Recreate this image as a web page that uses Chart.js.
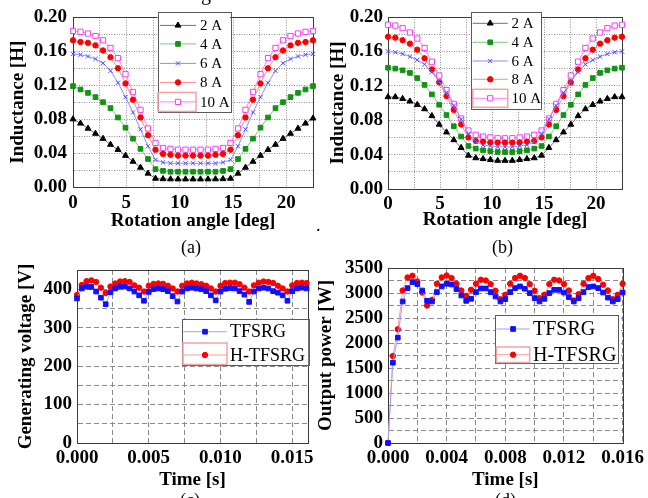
<!DOCTYPE html>
<html><head><meta charset="utf-8">
<script src="https://cdn.jsdelivr.net/npm/chart.js@4.4.1/dist/chart.umd.min.js"></script>
<style>
html,body{margin:0;padding:0;background:#fff;}
#wrap{position:relative;width:648px;height:498px;overflow:hidden;background:#fff;font-family:'Liberation Serif','Times New Roman',serif;color:#000;}
canvas{position:absolute;}
.txt{position:absolute;white-space:nowrap;line-height:1;}
</style></head><body>
<div id="wrap">
<canvas id="ca" width="320" height="232" style="left:0;top:0"></canvas>
<canvas id="cb" width="326" height="231" style="left:322px;top:0"></canvas>
<canvas id="cc" width="318" height="241" style="left:0;top:250px"></canvas>
<canvas id="cd" width="336" height="241" style="left:312px;top:250px"></canvas>
<div class="txt" style="left:201px;top:-17px;font-size:20px">g</div>
<div class="txt" style="left:316px;top:216px;font-size:18px">.</div>
<div class="txt" style="left:181px;top:238px;font-size:18px">(a)</div>
<div class="txt" style="left:492px;top:238px;font-size:18px">(b)</div>
<div class="txt" style="left:180px;top:491px;font-size:18px">(c)</div>
<div class="txt" style="left:495px;top:491px;font-size:18px">(d)</div>
</div>
<script>
// ---------------- data ----------------
const angleDeg = [0, 0.703, 1.406, 2.109, 2.813, 3.516, 4.219, 4.922, 5.625, 6.328, 7.031, 7.734, 8.438, 9.141, 9.844, 10.547, 11.25, 11.953, 12.656, 13.359, 14.063, 14.766, 15.469, 16.172, 16.875, 17.578, 18.281, 18.984, 19.688, 20.391, 21.094, 21.797, 22.5];
const currentLabels = ['2 A', '4 A', '6 A', '8 A', '10 A'];

// (a)
const indA_2A  = [0.080,0.075,0.069,0.063,0.057,0.050,0.044,0.037,0.030,0.023,0.016,0.010,0.0095,0.0093,0.0092,0.0092,0.0092,0.0092,0.0092,0.0093,0.0095,0.010,0.016,0.023,0.030,0.037,0.044,0.050,0.057,0.063,0.069,0.075,0.081];
const indA_4A  = [0.119,0.115,0.111,0.106,0.100,0.093,0.082,0.070,0.057,0.045,0.033,0.021,0.019,0.018,0.018,0.018,0.018,0.018,0.018,0.018,0.019,0.021,0.033,0.045,0.057,0.070,0.082,0.093,0.100,0.106,0.111,0.115,0.119];
const indA_6A  = [0.157,0.156,0.154,0.151,0.146,0.137,0.123,0.106,0.088,0.068,0.048,0.032,0.029,0.028,0.028,0.028,0.028,0.028,0.028,0.028,0.029,0.032,0.048,0.068,0.088,0.106,0.123,0.137,0.146,0.151,0.154,0.156,0.157];
const indA_8A  = [0.173,0.171,0.170,0.167,0.161,0.153,0.140,0.122,0.103,0.082,0.061,0.044,0.039,0.038,0.037,0.037,0.037,0.037,0.037,0.038,0.039,0.044,0.061,0.082,0.103,0.122,0.140,0.153,0.161,0.167,0.170,0.171,0.173];
const indA_10A = [0.184,0.183,0.181,0.178,0.173,0.164,0.152,0.133,0.112,0.091,0.069,0.052,0.046,0.045,0.044,0.044,0.044,0.044,0.044,0.045,0.046,0.052,0.069,0.091,0.112,0.133,0.152,0.164,0.173,0.178,0.181,0.183,0.184];

// (b)
const indB_2A  = [0.107,0.107,0.105,0.102,0.098,0.093,0.085,0.075,0.066,0.057,0.048,0.039,0.036,0.035,0.034,0.033,0.033,0.033,0.034,0.035,0.036,0.039,0.048,0.057,0.066,0.075,0.085,0.093,0.098,0.102,0.105,0.107,0.107];
const indB_4A  = [0.141,0.140,0.138,0.135,0.129,0.121,0.110,0.098,0.086,0.073,0.061,0.050,0.047,0.045,0.044,0.043,0.043,0.043,0.044,0.045,0.047,0.050,0.061,0.073,0.086,0.098,0.110,0.121,0.129,0.135,0.138,0.140,0.141];
const indB_6A  = [0.160,0.159,0.157,0.154,0.150,0.145,0.136,0.125,0.112,0.097,0.081,0.064,0.055,0.051,0.050,0.049,0.049,0.049,0.050,0.051,0.055,0.064,0.081,0.097,0.112,0.125,0.136,0.145,0.150,0.154,0.157,0.159,0.160];
const indB_8A  = [0.177,0.176,0.173,0.169,0.162,0.152,0.139,0.124,0.108,0.092,0.075,0.060,0.056,0.055,0.054,0.054,0.054,0.054,0.054,0.055,0.056,0.060,0.075,0.092,0.108,0.124,0.139,0.152,0.162,0.169,0.173,0.176,0.177];
const indB_10A = [0.191,0.190,0.187,0.182,0.175,0.164,0.148,0.132,0.115,0.099,0.082,0.068,0.063,0.061,0.060,0.059,0.059,0.059,0.060,0.061,0.063,0.068,0.082,0.099,0.115,0.132,0.148,0.164,0.175,0.182,0.187,0.190,0.191];

// (c), (d)
const timeS = [0, 0.000333, 0.000667, 0.001, 0.001333, 0.001667, 0.002, 0.002333, 0.002667, 0.003, 0.003333, 0.003667, 0.004, 0.004333, 0.004667, 0.005, 0.005333, 0.005667, 0.006, 0.006333, 0.006667, 0.007, 0.007333, 0.007667, 0.008, 0.008333, 0.008667, 0.009, 0.009333, 0.009667, 0.01, 0.010333, 0.010667, 0.011, 0.011333, 0.011667, 0.012, 0.012333, 0.012667, 0.013, 0.013333, 0.013667, 0.014, 0.014333, 0.014667, 0.015, 0.015333, 0.015667, 0.016];
const machineLabels = ['TFSRG', 'H-TFSRG'];
const voltTFSRG  = [376,402,407,406,394,378,361,392,402,407,407,402,394,384,370,393,400,402,400,395,382,368,394,402,404,402,400,395,384,371,394,401,403,402,395,386,367,394,402,404,402,395,391,384,370,395,402,404,402];
const voltHTFSRG = [385,411,421,423,419,404,390,407,415,420,421,419,410,404,394,409,414,415,414,409,402,394,409,415,417,415,413,409,402,394,409,416,417,417,413,404,394,410,417,420,419,416,409,402,394,410,416,417,416];
const powerTFSRG  = [0,1606,2107,2830,3098,3218,3178,3050,2843,2830,3018,3131,3185,3171,3078,2950,2843,2884,3018,3091,3091,3018,2930,2830,2878,3018,3098,3131,3085,2998,2898,2830,2884,2998,3064,3064,3010,2918,2830,2898,3018,3118,3131,3098,3010,2908,2830,2878,3010];
const powerHTFSRG = [0,1740,2275,3050,3311,3345,3231,3010,2750,2863,3185,3311,3351,3299,3185,3050,2944,3064,3185,3265,3251,3178,3044,2878,2964,3185,3299,3345,3299,3178,3044,2898,2964,3178,3265,3251,3178,3050,2850,2978,3185,3299,3345,3279,3165,3050,2878,2964,3185];

// tick labels
const angleTickLabels = ['0', '5', '10', '15', '20'];
const indTickLabels = ['0.00', '0.04', '0.08', '0.12', '0.16', '0.20'];
const voltTickLabels = ['0', '100', '200', '300', '400'];
const timeTickLabelsC = ['0.000', '0.005', '0.010', '0.015'];
const powerTickLabels = ['0', '500', '1000', '1500', '2000', '2500', '3000', '3500'];
const timeTickLabelsD = ['0.000', '0.004', '0.008', '0.012', '0.016'];

// ---------------- styling / helpers ----------------
const SERIF = "'Liberation Serif','Times New Roman',serif";
const indStyles = [
  {line: '#707070', color: '#000000', fill: '#000000', style: 'triangle', r: 3.4},
  {line: '#7fc87f', color: '#139313', fill: '#139313', style: 'rect', r: 3.3},
  {line: '#8c8cff', color: '#4a4aff', fill: '#4a4aff', style: 'crossRot', r: 3},
  {line: '#ff8a8a', color: '#ff0000', fill: '#ff0000', style: 'circle', r: 2.7},
  {line: '#ff7dff', color: '#f040f0', fill: '#ffffff', style: 'rect', r: 3.7}
];
const machStyles = [
  {line: '#a0a0ff', color: '#1010ff', fill: '#1010ff', style: 'rect', r: 3.3},
  {line: '#ff9c9c', color: '#ff0000', fill: '#ff0000', style: 'circle', r: 2.7}
];

function series(xs, ys, st, label) {
  return {
    label, data: xs.map((x, i) => ({x, y: ys[i]})),
    borderColor: st.line, borderWidth: 1, tension: 0, fill: false,
    pointStyle: st.style, pointRadius: st.r, pointHoverRadius: st.r,
    pointBackgroundColor: st.fill, pointBorderColor: st.color, pointBorderWidth: 1,
    clip: 8
  };
}

function tickLabel(labels, step) {
  return function (v) {
    for (const l of labels) if (Math.abs(parseFloat(l) - v) < step * 0.01) return l;
    return '';
  };
}

function axis(a, horiz) {
  return {
    type: 'linear', position: horiz ? 'bottom' : 'left',
    min: a.min, max: a.max,
    afterFit: s => { if (horiz) s.height = a.size; else s.width = a.size; },
    ticks: {
      stepSize: a.step, autoSkip: false, maxRotation: 0, minRotation: 0, includeBounds: false,
      padding: a.tickPad, color: '#000',
      font: {family: SERIF, size: 19, weight: 'bold'},
      callback: tickLabel(a.labels, a.step)
    },
    grid: {color: a.gridColor, lineWidth: 1, drawTicks: false},
    border: {display: true, color: '#333', dash: a.dash},
    title: {
      display: true, text: a.title, color: '#000',
      font: {family: SERIF, size: 19, weight: 'bold', lineHeight: 1.2},
      padding: horiz ? {top: 0, bottom: a.titlePad} : {top: a.titlePad, bottom: 0}
    }
  };
}

const framePlugin = {
  id: 'frame',
  beforeDatasetsDraw(chart) {
    const {ctx, chartArea: a} = chart;
    ctx.save();
    ctx.strokeStyle = '#3a3a3a'; ctx.lineWidth = 1; ctx.setLineDash([]);
    ctx.strokeRect(Math.round(a.left) + 0.5, Math.round(a.top) + 0.5, Math.round(a.right - a.left), Math.round(a.bottom - a.top));
    ctx.restore();
  }
};

function drawMarker(ctx, style, r, x, y, fill, stroke) {
  ctx.save();
  ctx.fillStyle = fill; ctx.strokeStyle = stroke; ctx.lineWidth = 1;
  ctx.beginPath();
  if (style === 'circle') { ctx.arc(x, y, r, 0, Math.PI * 2); ctx.fill(); ctx.stroke(); }
  else if (style === 'rect') { const s = r * Math.SQRT1_2; ctx.rect(x - s, y - s, 2 * s, 2 * s); ctx.fill(); ctx.stroke(); }
  else if (style === 'triangle') {
    for (let k = 0; k < 3; k++) { const ang = k * 2 * Math.PI / 3; const px = x + Math.sin(ang) * r, py = y - Math.cos(ang) * r; k ? ctx.lineTo(px, py) : ctx.moveTo(px, py); }
    ctx.closePath(); ctx.fill(); ctx.stroke();
  } else if (style === 'crossRot') {
    const o = r * Math.SQRT1_2;
    ctx.moveTo(x - o, y - o); ctx.lineTo(x + o, y + o); ctx.moveTo(x - o, y + o); ctx.lineTo(x + o, y - o); ctx.stroke();
  }
  ctx.restore();
}

function legendPlugin(spec) {
  return {
    id: 'boxLegend',
    afterDraw(chart) {
      const {ctx, chartArea: a} = chart;
      const x = a.left + spec.dx, y = a.top + spec.dy;
      ctx.save();
      ctx.setLineDash([]);
      ctx.fillStyle = '#fff'; ctx.fillRect(x, y, spec.w, spec.h);
      ctx.strokeStyle = '#5a5a5a'; ctx.lineWidth = 1;
      ctx.strokeRect(Math.round(x) + 0.5, Math.round(y) + 0.5, Math.round(spec.w), Math.round(spec.h));
      chart.data.datasets.forEach((ds, i) => {
        const cy = y + spec.rows[i];
        if (spec.hl === i) {
          ctx.strokeStyle = '#f5a3a3'; ctx.lineWidth = 1.5;
          ctx.strokeRect(x + spec.hx0, y + spec.hy0, spec.hx1 - spec.hx0, spec.hy1 - spec.hy0);
        }
        ctx.strokeStyle = ds.borderColor; ctx.lineWidth = 1;
        ctx.beginPath(); ctx.moveTo(x + spec.l0, cy); ctx.lineTo(x + spec.l1, cy); ctx.stroke();
        drawMarker(ctx, ds.pointStyle, ds.pointRadius, x + (spec.l0 + spec.l1) / 2, cy, ds.pointBackgroundColor, ds.pointBorderColor);
        ctx.fillStyle = '#000'; ctx.font = spec.font; ctx.textBaseline = 'middle'; ctx.textAlign = 'left';
        ctx.fillText(ds.label, x + spec.tx, cy + 1);
      });
      ctx.restore();
    }
  };
}

function build(id, spec) {
  return new Chart(document.getElementById(id), {
    type: 'line',
    data: {datasets: spec.datasets},
    options: {
      responsive: false, animation: false, devicePixelRatio: 1,
      layout: {padding: {left: 0, top: spec.padTop, right: spec.padRight, bottom: 0}},
      plugins: {legend: {display: false}, tooltip: {enabled: false}},
      events: [],
      scales: {x: axis(spec.x, true), y: axis(spec.y, false)}
    },
    plugins: [framePlugin, legendPlugin(spec.legend)]
  });
}

const dotGrid = {gridColor: '#8f8f8f', dash: [1, 1.5]};
const dashGrid = {gridColor: '#8a8a8a', dash: [5, 3]};

// (a)
build('ca', {
  padTop: 14, padRight: 7,
  datasets: [indA_2A, indA_4A, indA_6A, indA_8A, indA_10A].map((d, i) => series(angleDeg, d, indStyles[i], currentLabels[i])),
  x: Object.assign({min: 0, max: 22.5, step: 2.5, labels: angleTickLabels, title: 'Rotation angle [deg]', size: 45, tickPad: 5, titlePad: 0}, dotGrid),
  y: Object.assign({min: 0, max: 0.2, step: 0.02, labels: indTickLabels, title: 'Inductance [H]', size: 73, tickPad: 6, titlePad: 7}, dotGrid),
  legend: {dx: 84.5, dy: -5.5, w: 72.5, h: 100, rows: [13.5, 32, 51.5, 70.5, 90], l0: 2.5, l1: 38.5, tx: 42.5,
           font: "15px " + SERIF, hl: 4, hx0: 0.5, hx1: 38.5, hy0: 80.5, hy1: 99.5}
});

// (b)
build('cb', {
  padTop: 17, padRight: 26,
  datasets: [indB_2A, indB_4A, indB_6A, indB_8A, indB_10A].map((d, i) => series(angleDeg, d, indStyles[i], currentLabels[i])),
  x: Object.assign({min: 0, max: 22.5, step: 2.5, labels: angleTickLabels, title: 'Rotation angle [deg]', size: 42, tickPad: 4, titlePad: 0}, dotGrid),
  y: Object.assign({min: 0, max: 0.2, step: 0.02, labels: indTickLabels, title: 'Inductance [H]', size: 66, tickPad: 5, titlePad: 5}, dotGrid),
  legend: {dx: 83.4, dy: -5.3, w: 70.3, h: 96.6, rows: [11.6, 30.6, 49.3, 67.6, 86.6], l0: 1.3, l1: 36.3, tx: 40,
           font: "15px " + SERIF, hl: 4, hx0: 1.3, hx1: 36.3, hy0: 77.6, hy1: 95.6}
});

// (c)
build('cc', {
  padTop: 20, padRight: 6,
  datasets: [voltTFSRG, voltHTFSRG].map((d, i) => series(timeS, d, machStyles[i], machineLabels[i])),
  x: Object.assign({min: 0, max: 0.0161, step: 0.0025, labels: timeTickLabelsC, title: 'Time [s]', size: 48, tickPad: 4, titlePad: 0}, dashGrid),
  y: Object.assign({min: 0, max: 450, step: 50, labels: voltTickLabels, title: 'Generating voltage [V]', size: 77, tickPad: 5, titlePad: 15}, dashGrid),
  legend: {dx: 104.7, dy: 49.3, w: 126.6, h: 45.7, rows: [12.4, 35.7], l0: 1.6, l1: 45, tx: 48.3,
           font: "18px " + SERIF, hl: 1, hx0: 1.3, hx1: 45.3, hy0: 23.7, hy1: 45.2}
});

// (d)
build('cd', {
  padTop: 18, padRight: 23,
  datasets: [powerTFSRG, powerHTFSRG].map((d, i) => series(timeS, d, machStyles[i], machineLabels[i])),
  x: Object.assign({min: 0, max: 0.016, step: 0.002, labels: timeTickLabelsD, title: 'Time [s]', size: 48, tickPad: 4, titlePad: 0}, dashGrid),
  y: Object.assign({min: 0, max: 3500, step: 250, labels: powerTickLabels, title: 'Output power [W]', size: 76, tickPad: 5, titlePad: 3}, dashGrid),
  legend: {dx: 106.7, dy: 46.7, w: 123.3, h: 48.3, rows: [14.3, 40], l0: 1.7, l1: 35, tx: 38.3,
           font: "20px " + SERIF, hl: 1, hx0: 1.7, hx1: 35, hy0: 32.3, hy1: 47.8}
});
</script>
</body></html>
